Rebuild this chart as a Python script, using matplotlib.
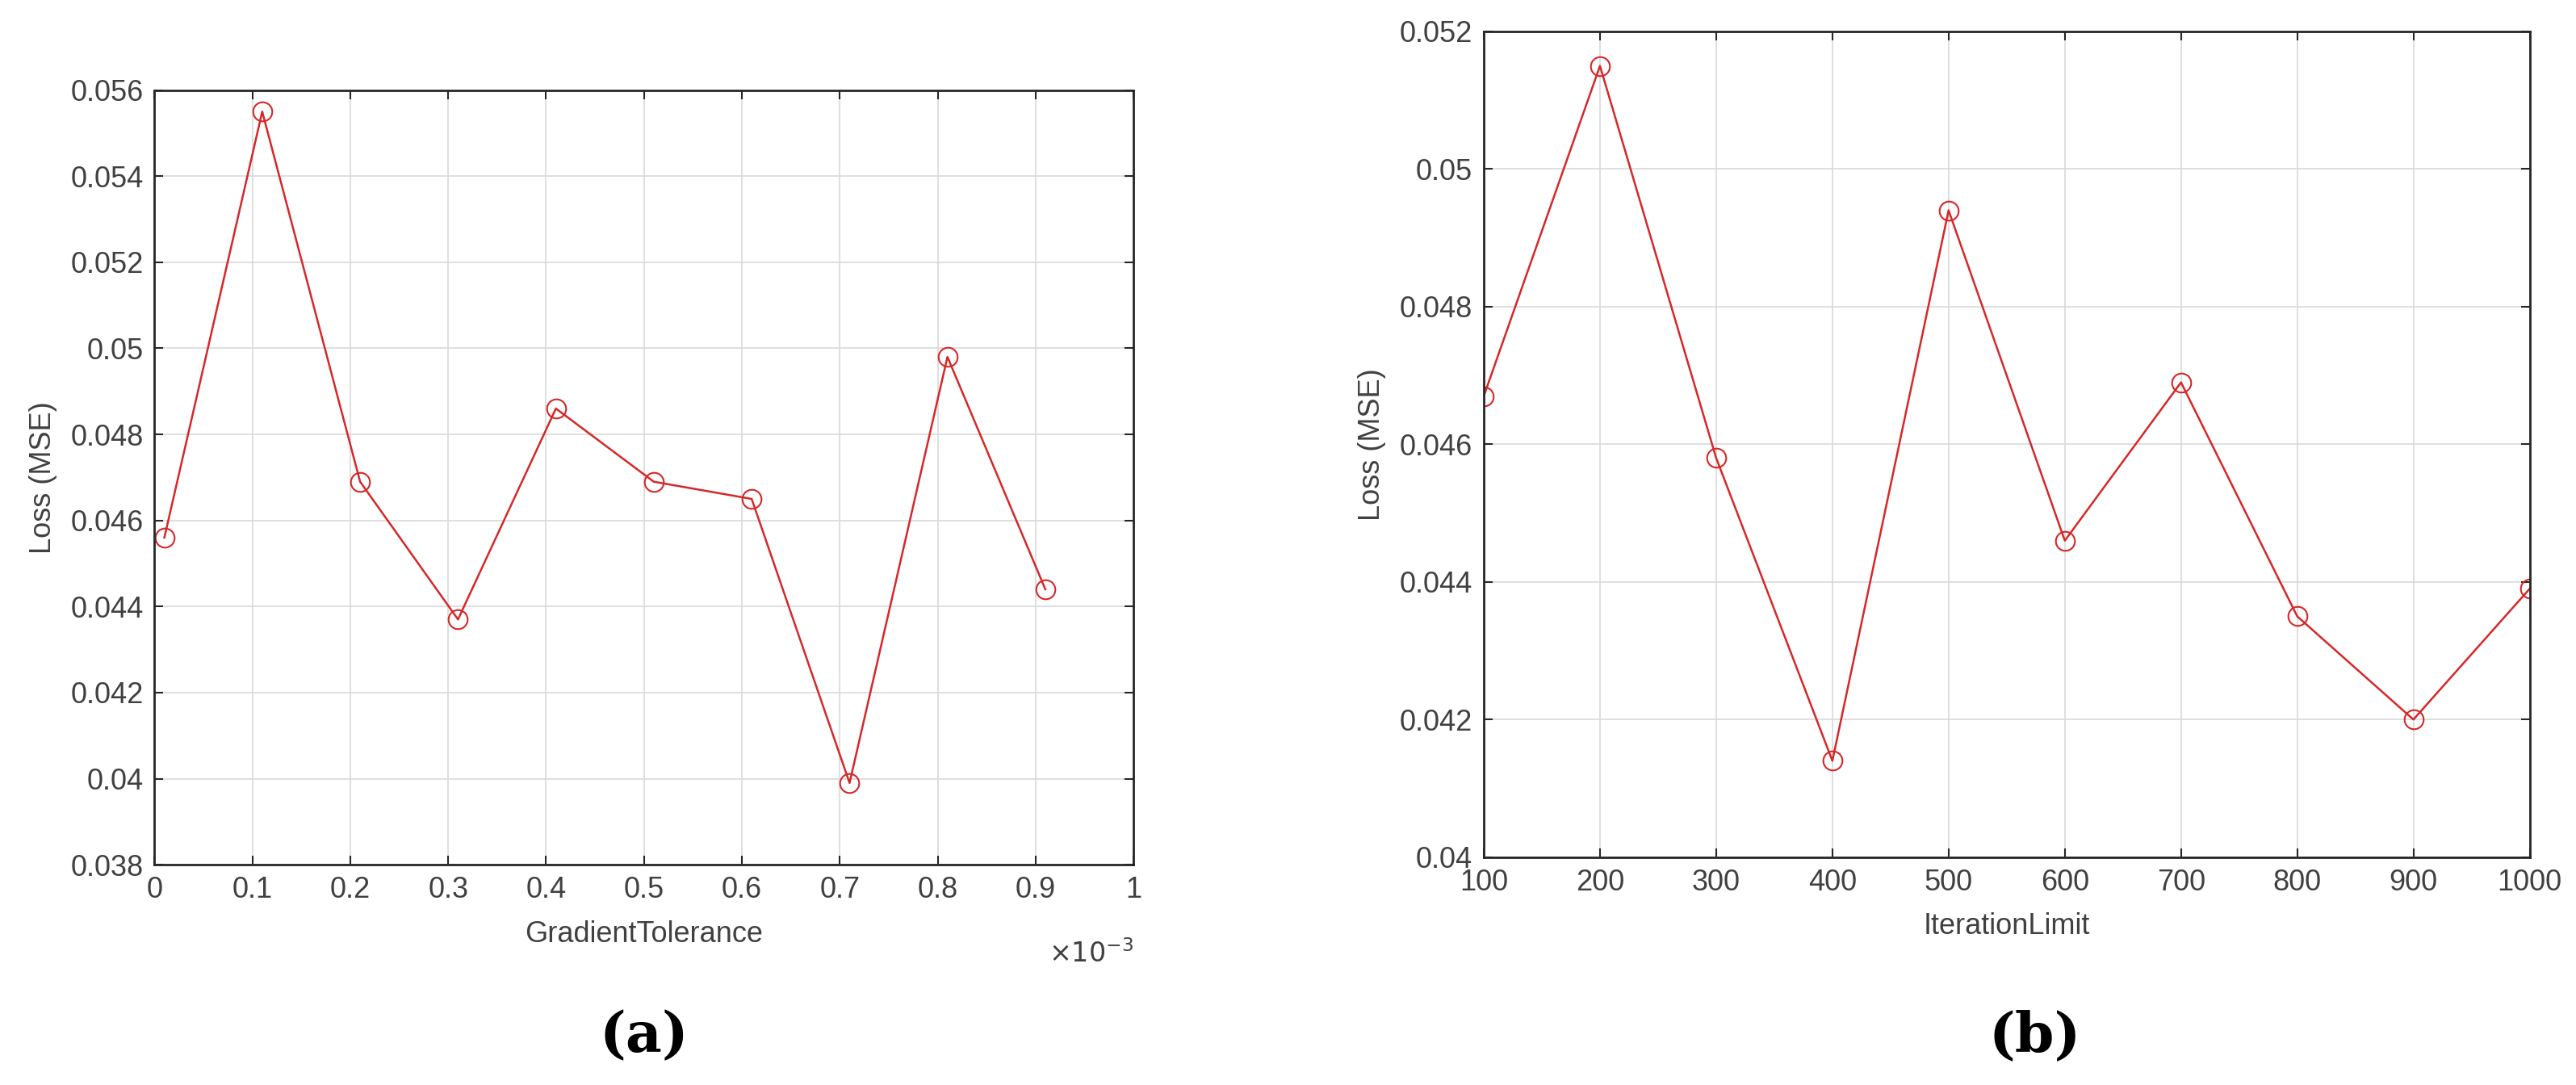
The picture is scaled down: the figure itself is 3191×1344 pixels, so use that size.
import matplotlib
matplotlib.use("Agg")
import matplotlib.pyplot as plt

# (a) GradientTolerance sweep
grad_tol = [0.01, 0.11, 0.21, 0.31, 0.41, 0.51, 0.61, 0.71, 0.81, 0.91]  # x 1e-3
loss_a = [0.0456, 0.0555, 0.0469, 0.0437, 0.0486, 0.0469, 0.0465, 0.0399, 0.0498, 0.0444]

# (b) IterationLimit sweep
iter_limit = [100, 200, 300, 400, 500, 600, 700, 800, 900, 1000]
loss_b = [0.0467, 0.0515, 0.0458, 0.0414, 0.0494, 0.0446, 0.0469, 0.0435, 0.0420, 0.0439]

RED = "#d62728"
TXT = "#404040"
TICK_FS = 26

fig = plt.figure(figsize=(31.91, 13.44), dpi=100)
plt.rcParams["font.family"] = ["Liberation Sans", "DejaVu Sans"]


def style(ax):
    ax.grid(True, color="#d9d9d9", linewidth=1.2)
    ax.set_axisbelow(True)
    for s in ax.spines.values():
        s.set_linewidth(2)
        s.set_color("#262626")
    ax.tick_params(direction="in", length=8, width=1.5, labelsize=TICK_FS,
                   colors="#262626", labelcolor=TXT, top=True, right=True, pad=10)


ax1 = fig.add_axes([0.060, 0.203, 0.380, 0.714])
ax1.plot(grad_tol, loss_a, color=RED, lw=1.8, marker="o", ms=17,
         mfc="none", mec=RED, mew=1.5)
ax1.set_xlim(0, 1)
ax1.set_ylim(0.038, 0.056)
ax1.set_xticks([i / 10 for i in range(11)])
ax1.set_xticklabels(["0", "0.1", "0.2", "0.3", "0.4", "0.5", "0.6", "0.7", "0.8", "0.9", "1"])
ax1.set_yticks([0.038 + 0.002 * i for i in range(10)])
ax1.set_yticklabels(["0.038", "0.04", "0.042", "0.044", "0.046", "0.048",
                     "0.05", "0.052", "0.054", "0.056"])
ax1.set_xlabel("GradientTolerance", fontsize=TICK_FS, color=TXT, labelpad=14)
ax1.set_ylabel("Loss (MSE)", fontsize=TICK_FS, color=TXT, labelpad=12)
ax1.text(1.0, -0.115, r"$\times10^{-3}$", transform=ax1.transAxes,
         ha="right", va="center", fontsize=24, color=TXT)
style(ax1)

ax2 = fig.add_axes([0.576, 0.21, 0.406, 0.761])
ax2.plot(iter_limit, loss_b, color=RED, lw=1.8, marker="o", ms=17,
         mfc="none", mec=RED, mew=1.5)
ax2.set_xlim(100, 1000)
ax2.set_ylim(0.04, 0.052)
ax2.set_xticks(iter_limit)
ax2.set_yticks([0.04 + 0.002 * i for i in range(7)])
ax2.set_yticklabels(["0.04", "0.042", "0.044", "0.046", "0.048", "0.05", "0.052"])
ax2.set_xlabel("IterationLimit", fontsize=TICK_FS, color=TXT, labelpad=14)
ax2.set_ylabel("Loss (MSE)", fontsize=TICK_FS, color=TXT, labelpad=12)
style(ax2)

fig.text(0.25, 0.045, "(a)", ha="center", va="center", fontsize=50,
         family="DejaVu Serif", fontweight="bold")
fig.text(0.79, 0.045, "(b)", ha="center", va="center", fontsize=50,
         family="DejaVu Serif", fontweight="bold")

fig.savefig("out.png", dpi=100, facecolor="white")
